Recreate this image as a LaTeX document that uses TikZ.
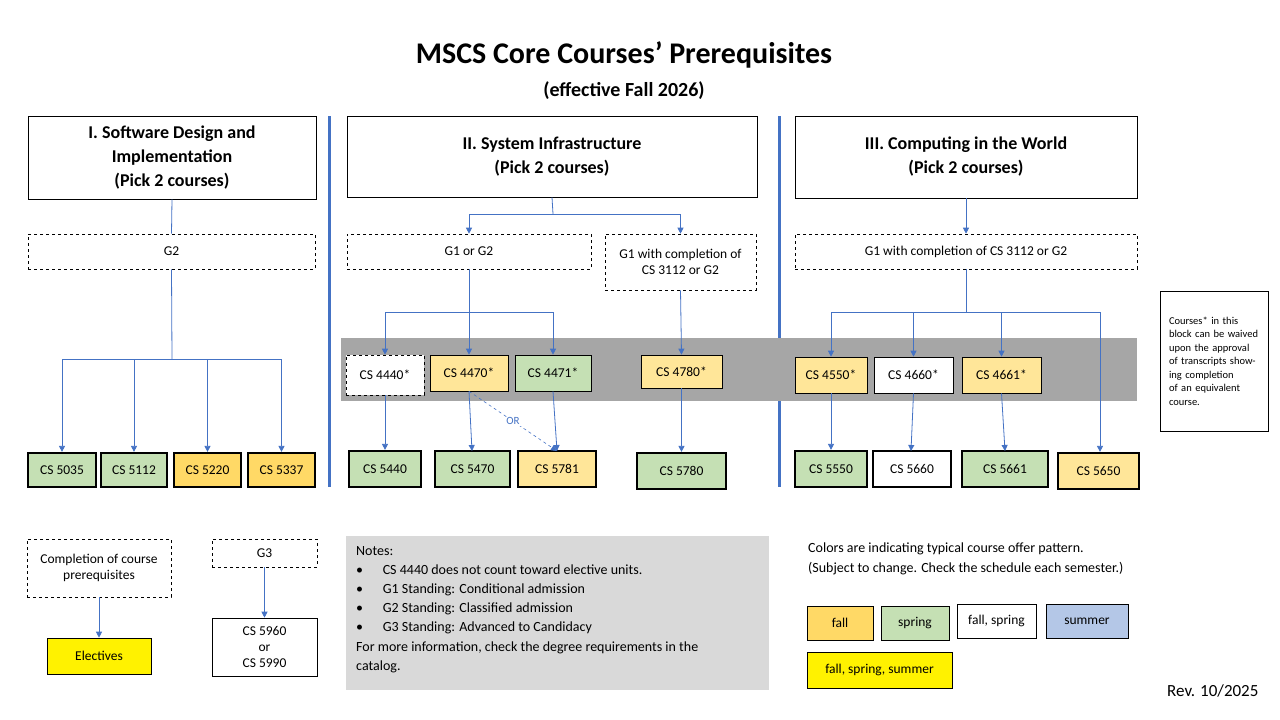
\documentclass[tikz,border=0pt]{standalone}
\usepackage{fontspec}
\setmainfont{Carlito}
\usetikzlibrary{arrows.meta}
\definecolor{fallc}{HTML}{FFD966}
\definecolor{fallL}{HTML}{FFE699}
\definecolor{springc}{HTML}{C5E0B4}
\definecolor{summerc}{HTML}{B4C7E7}
\definecolor{lnc}{HTML}{4472C4}
\begin{document}
\begin{tikzpicture}[x=1pt,y=-1pt,
  txt/.style={font=\fontsize{13.5}{16}\selectfont},
  box/.style={draw,line width=0.6pt,inner sep=0pt,align=center,txt},
  dbox/.style={box,dashed},
  crs/.style={box,line width=2.2pt},
  sec/.style={box,font=\fontsize{18}{24}\selectfont\bfseries},
  arr/.style={lnc,line width=0.8pt,-{Triangle[width=6pt,length=6pt]}},
  ln/.style={lnc,line width=0.8pt}]
\useasboundingbox (0,0) rectangle (1280,720);
\newcommand{\bx}[5][box]{\node[#1,minimum width={#4-#2},minimum height={#5-#3}] at ({(#2+#4)/2},{(#3+#5)/2})}
% title
\node[font=\fontsize{30}{34}\selectfont\bfseries] (title) at (624,55) {MSCS Core Courses’ Prerequisites};
\node[font=\fontsize{20}{24}\selectfont\bfseries] (sub) at (624,91) {(effective Fall 2026)};
% sections
\bx[sec]{28}{116}{316}{199} (s1) {I. Software Design and\\Implementation\\(Pick 2 courses)};
\bx[sec]{347}{116}{757}{197} (s2) {II. System Infrastructure\\(Pick 2 courses)};
\bx[sec]{795}{116}{1137}{198} (s3) {III. Computing in the World\\(Pick 2 courses)};
\draw[lnc,line width=3pt] (329,116) -- (329,487);
\draw[lnc,line width=3pt] (779,116) -- (779,487);
% gray band
\fill[black!35] (341,338) rectangle (1137,401);
% prereq boxes
\bx[dbox]{28}{234}{315}{269} (g2) {G2};
\bx[dbox]{347}{234}{591}{269} (g12) {G1 or G2};
\bx[dbox]{605}{234}{756}{290} (g1c) {G1 with completion of\\CS 3112 or G2};
\bx[dbox]{795}{234}{1137}{269} (g1c3) {G1 with completion of CS 3112 or G2};
\bx[box,font=\fontsize{10.5}{13.5}\selectfont,align=left,text width=90pt]{1160}{291}{1268}{431} (note) {Courses* in this block can be waived upon the approval of transcripts showing completion of an equivalent course.};
% section I courses
\bx[crs,fill=springc]{28}{453}{96}{487} (c5035) {CS 5035};
\bx[crs,fill=springc]{101}{453}{167}{487} (c5112) {CS 5112};
\bx[crs,fill=fallc]{174}{453}{241}{487} (c5220) {CS 5220};
\bx[crs,fill=fallc]{248}{453}{315}{487} (c5337) {CS 5337};
% section II
\bx[dbox,fill=white]{346}{355}{424}{395} (c4440) {CS 4440*};
\bx[box,fill=fallL]{430}{355}{508}{391} (c4470) {CS 4470*};
\bx[box,fill=springc]{515}{355}{591}{391} (c4471) {CS 4471*};
\bx[box,fill=fallL]{641}{355}{722}{388} (c4780) {CS 4780*};
\bx[crs,fill=springc]{349}{451}{421}{487} (c5440) {CS 5440};
\bx[crs,fill=springc]{435}{451}{510}{487} (c5470) {CS 5470};
\bx[crs,fill=fallL]{518}{451}{596}{487} (c5781) {CS 5781};
\bx[crs,fill=springc]{637}{453}{726}{489} (c5780) {CS 5780};
% section III
\bx[box,fill=fallL]{795}{357}{867}{393} (c4550) {CS 4550*};
\bx[box,fill=white]{874}{357}{953}{393} (c4660) {CS 4660*};
\bx[box,fill=fallL]{962}{357}{1041}{393} (c4661) {CS 4661*};
\bx[crs,fill=springc]{795}{451}{867}{487} (c5550) {CS 5550};
\bx[crs,fill=white]{873}{451}{951}{487} (c5660) {CS 5660};
\bx[crs,fill=springc]{962}{451}{1048}{487} (c5661) {CS 5661};
\bx[crs,fill=fallL]{1058}{453}{1139}{489} (c5650) {CS 5650};
% connectors I
\draw[ln] (s1.south) -- (g2.north);
\draw[ln] (g2.south) -- (172,359) coordinate (j1);
\draw[ln] (c5035.north |- j1) -- (c5337.north |- j1);
\foreach \n in {c5035,c5112,c5220,c5337} \draw[arr] (\n.north |- j1) -- (\n.north);
% connectors II
\draw[ln] (s2.south) -- (553,214) coordinate (j2);
\draw[ln] (g12.north |- j2) -- (g1c.north |- j2);
\draw[arr] (g12.north |- j2) -- (g12.north);
\draw[arr] (g1c.north |- j2) -- (g1c.north);
\draw[ln] (g12.south) -- (469,312) coordinate (j3);
\draw[ln] (c4440.north |- j3) -- (c4471.north |- j3);
\foreach \n in {c4440,c4470,c4471} \draw[arr] (\n.north |- j3) -- (\n.north);
\draw[arr] (g1c.south) -- (c4780.north);
\draw[arr] (c4440.south) -- (c5440.north -| c4440.south);
\draw[arr] (c4470.south) -- (472,451);
\draw[arr] (c4471.south) -- (557,451);
\draw[lnc,line width=0.6pt,dashed,-{Triangle[width=6pt,length=6pt]}] (c4470.south) -- node[pos=0.5,fill=white,inner sep=1pt,txt,font=\fontsize{11}{13}\selectfont] {OR} (557,451);
\draw[arr] (c4780.south) -- (c5780.north);
% connectors III
\draw[arr] (s3.south) -- (g1c3.north);
\draw[ln] (g1c3.south) -- (966,312) coordinate (j4);
\draw[ln] (831,312) -- (1100,312);
\foreach \n in {c4550,c4660,c4661} \draw[arr] (\n.north |- j4) -- (\n.north);
\draw[arr] (1100,312) -- (c5650.north -| 1100,0);
\draw[arr] (c4550.south) -- (c5550.north);
\draw[arr] (c4660.south) -- (911,451);
\draw[arr] (c4661.south) -- (1005,451);
% bottom left
\bx[dbox]{27}{539}{171}{597} (comp) {Completion of course\\prerequisites};
\bx[box,fill=yellow]{47}{638}{151}{674} (elec) {Electives};
\draw[arr] (comp.south) -- (elec.north);
\bx[dbox]{212}{539}{317}{567} (g3) {G3};
\bx[box]{212}{618}{317}{676} (cap) {CS 5960\\or\\CS 5990};
\draw[arr] (g3.south) -- (cap.north);
% notes
\fill[black!15] (346,536) rectangle (769,690);
\node[anchor=north west,align=left,txt,font=\fontsize{14}{19.2}\selectfont,inner sep=0pt] (notes) at (356,546) {Notes:\\
\textbullet\hspace{1.4em}CS 4440 does not count toward elective units.\\
\textbullet\hspace{1.4em}G1 Standing: Conditional admission\\
\textbullet\hspace{1.4em}G2 Standing: Classified admission\\
\textbullet\hspace{1.4em}G3 Standing: Advanced to Candidacy\\
For more information, check the degree requirements in the\\catalog.};
% legend
\node[anchor=north west,align=left,font=\fontsize{14}{20}\selectfont,inner sep=0pt] (leg) at (808,543) {Colors are indicating typical course offer pattern.\\(Subject to change. Check the schedule each semester.)};
\bx[box,fill=fallc]{807}{606}{873}{640} (lf) {fall};
\bx[box,fill=springc]{881}{606}{949}{640} (ls) {spring};
\bx[box,fill=white]{957}{604}{1036}{638} (lfs) {fall, spring};
\bx[box,fill=summerc]{1046}{604}{1128}{638} (lsu) {summer};
\bx[box,fill=yellow]{807}{652}{952}{688} (lall) {fall, spring, summer};
\node[anchor=east,font=\fontsize{17}{20}\selectfont] (rev) at (1262,691) {Rev. 10/2025};
\end{tikzpicture}
\end{document}
